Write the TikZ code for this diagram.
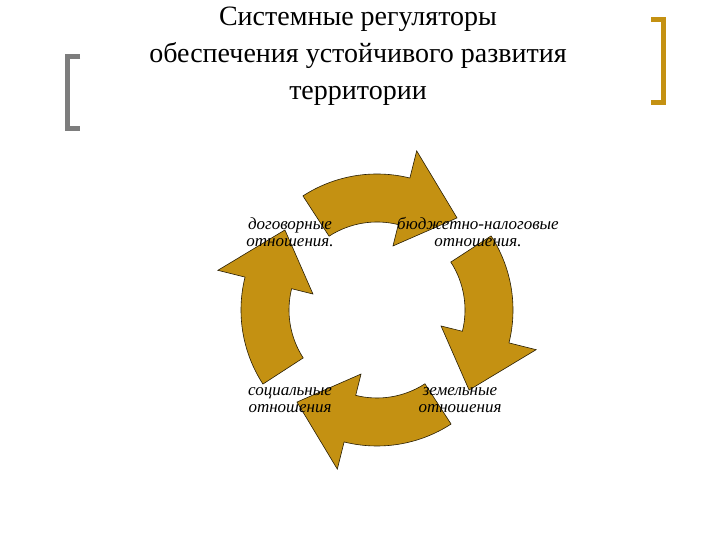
\documentclass[tikz,border=0pt]{standalone}
\usepackage{fontspec}
\setmainfont{Liberation Serif}
\definecolor{gold}{RGB}{196,145,18}
\definecolor{brk}{RGB}{125,125,125}
\begin{document}
\begin{tikzpicture}[x=1pt,y=1pt,
  arr/.style={fill=gold,draw=black!80!gold,line width=0.6pt,line join=miter},
  lbl/.style={font=\itshape\fontsize{17}{17.5}\selectfont,align=center,inner sep=0pt},
  ttl/.style={font=\fontsize{28}{37}\selectfont,align=center}]
\useasboundingbox (0,0) rectangle (720,540);
\fill[white] (0,0) rectangle (720,540);
\node[ttl] (title) at (358,484) {Системные регуляторы\\обеспечения устойчивого развития\\территории};
\draw[brk,line width=5pt] (80,483) -- (67,483) -- (67,411) -- (80,411);
\draw[gold,line width=5pt] (651,520) -- (663,520) -- (663,437) -- (651,437);
\coordinate (c) at (377,230);
\foreach \s in {0,-90,-180,-270}{
  \draw[arr] ([shift={(\s+123:88)}]c) arc[start angle=\s+123,end angle=\s+76,radius=88]
    -- ([shift={(\s+76:66)}]c) -- ([shift={(\s+49:122)}]c) -- ([shift={(\s+76:164)}]c)
    -- ([shift={(\s+76:136)}]c) arc[start angle=\s+76,end angle=\s+123,radius=136] -- cycle;
}
\node[lbl] (l1) at (290,308) {договорные\\отношения.};
\node[lbl] (l2) at (478,308) {бюджетно-налоговые\\отношения.};
\node[lbl] (l3) at (290,140) {социальные\\отношения};
\node[lbl] (l4) at (460,140) {земельные\\отношения};
\end{tikzpicture}
\end{document}
